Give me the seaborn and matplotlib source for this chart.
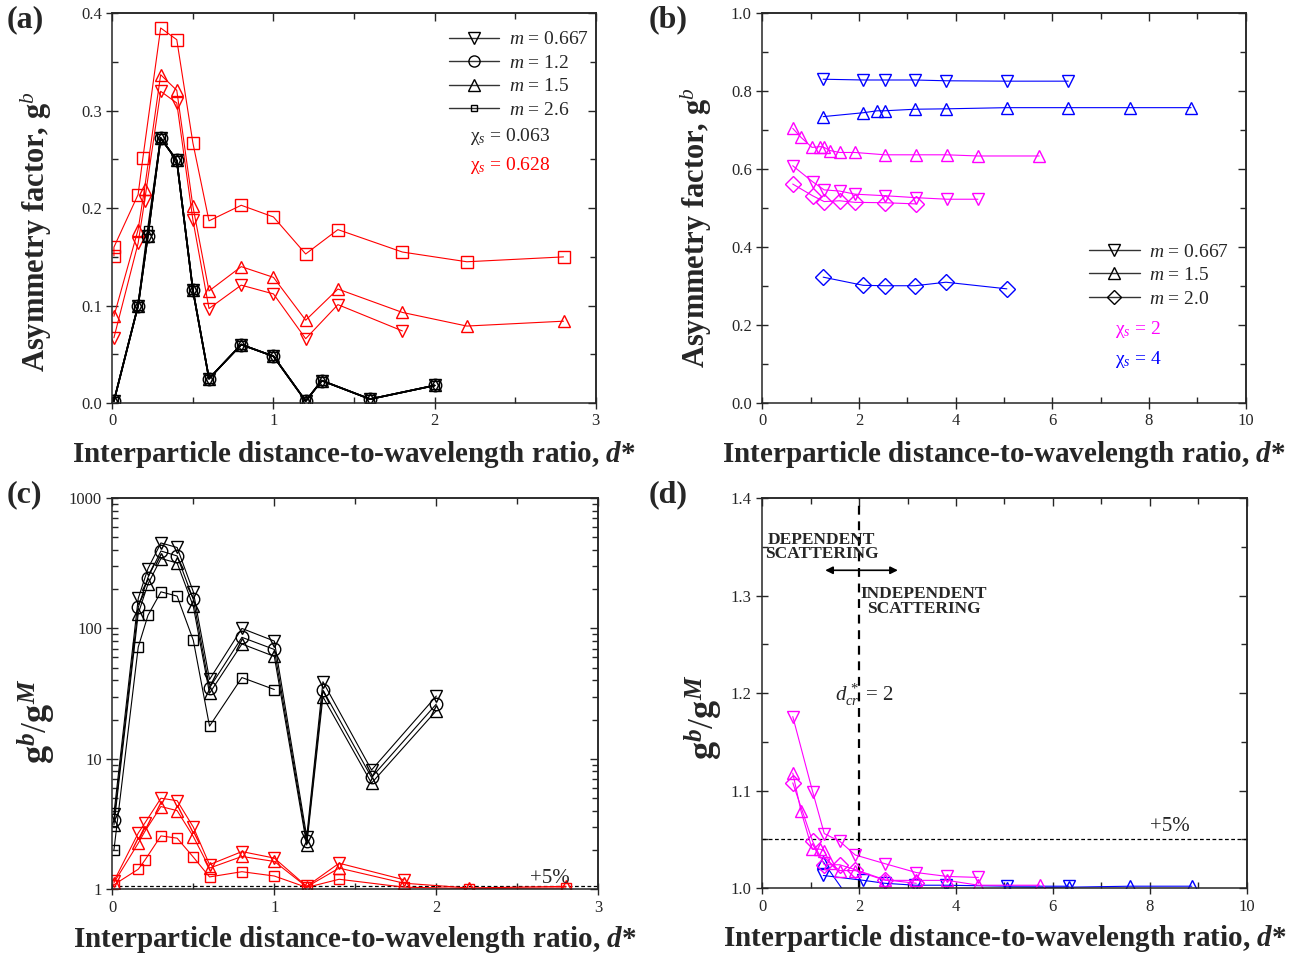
import matplotlib
matplotlib.use("Agg")
import matplotlib.pyplot as plt
import seaborn as sns
from matplotlib.ticker import MultipleLocator, FixedLocator, NullFormatter, LogLocator, FormatStrFormatter
from matplotlib.lines import Line2D

# ---------------- data ----------------
# (a) asymmetry factor vs d*, chi_s = 0.063 (black) and 0.628 (red)
xa_black = [0.01, 0.16, 0.22, 0.3, 0.4, 0.5, 0.6, 0.8, 1.0, 1.2, 1.3, 1.6, 2.0]
ga_black_tri = [0.002, 0.100, 0.171, 0.272, 0.249, 0.116, 0.025, 0.060, 0.048, 0.002, 0.023, 0.004, 0.018]
ga_black_sq = [0.002, 0.100, 0.178, 0.272, 0.249, 0.116, 0.025, 0.060, 0.048, 0.002, 0.023, 0.004, 0.018]

xa_red = [0.01, 0.16, 0.2, 0.3, 0.4, 0.5, 0.6, 0.8, 1.0, 1.2, 1.4, 1.8, 2.2, 2.8]
ga_red_667 = [0.067, 0.164, 0.207, 0.320, 0.308, 0.188, 0.097, 0.121, 0.112, 0.066, 0.101, 0.074]
ga_red_15 = [0.089, 0.178, 0.220, 0.337, 0.321, 0.202, 0.115, 0.140, 0.129, 0.085, 0.117, 0.093, 0.079, 0.084]
xa_red_sq = [0.01, 0.01, 0.16, 0.19, 0.3, 0.4, 0.5, 0.6, 0.8, 1.0, 1.2, 1.4, 1.8, 2.2, 2.8]
ga_red_26 = [0.151, 0.160, 0.214, 0.252, 0.385, 0.373, 0.267, 0.187, 0.203, 0.191, 0.153, 0.178, 0.155, 0.145, 0.150]

# (b) asymmetry factor vs d*, chi_s = 2 (magenta) and 4 (blue)
xb_blue = [1.26, 2.09, 2.53, 3.16, 3.80, 5.06, 6.33]
xb_blue_tu = [1.26, 2.09, 2.38, 2.53, 3.16, 3.80, 5.06, 6.33, 7.60, 8.87]
gb_blue_667 = [0.831, 0.829, 0.829, 0.829, 0.827, 0.826, 0.826]
gb_blue_15 = [0.735, 0.745, 0.750, 0.750, 0.754, 0.755, 0.758, 0.758, 0.758, 0.758]
gb_blue_20 = [0.323, 0.302, 0.301, 0.301, 0.310, 0.293]

xb_mag = [0.63, 1.04, 1.28, 1.60, 1.92, 2.54, 3.18, 3.82, 4.46]
xb_mag_tu = [0.63, 0.80, 1.03, 1.20, 1.28, 1.40, 1.60, 1.92, 2.54, 3.18, 3.82, 4.46, 5.73]
gb_mag_667 = [0.609, 0.568, 0.547, 0.544, 0.536, 0.532, 0.527, 0.523, 0.523]
gb_mag_15 = [0.705, 0.682, 0.656, 0.658, 0.656, 0.648, 0.643, 0.643, 0.637, 0.637, 0.637, 0.634, 0.634]
gb_mag_20 = [0.562, 0.532, 0.517, 0.519, 0.515, 0.514, 0.511]

# (c) g^b / g^M, same cases as (a)
rc_black_667 = [3.8, 170, 288, 453, 418, 191, 40.6, 100, 80, 2.53, 39, 8.2, 30.3]
rc_black_12 = [3.4, 145, 246, 393, 360, 167, 35, 85.5, 69, 2.32, 33.7, 7.2, 26.3]
rc_black_15 = [3.1, 130, 219, 344, 318, 148, 31.8, 76, 61, 2.18, 29.9, 6.5, 23.4]
rc_black_26 = [2.0, 72, 126, 191, 177, 81, 17.8, 42, 34]
rc_red_667 = [1.15, 2.69, 3.2, 4.98, 4.77, 2.99, 1.54, 1.94, 1.73, 1.05, 1.58, 1.18]
rc_red_15 = [1.12, 2.25, 2.76, 4.3, 4.0, 2.53, 1.45, 1.78, 1.63, 1.04, 1.45, 1.11, 1.02, 1.05]
rc_red_26 = [1.08, 1.42, 1.66, 2.56, 2.46, 1.76, 1.24, 1.36, 1.26, 1.03, 1.19, 1.035, 1.01, 1.02]

# (d) g^b / g^M, same cases as (b)
rd_mag_667 = [1.176, 1.099, 1.056, 1.048, 1.034, 1.025, 1.016, 1.012, 1.011]
rd_mag_15 = [1.118, 1.079, 1.040, 1.040, 1.038, 1.026, 1.018, 1.018, 1.008, 1.008, 1.008, 1.003, 1.003]
rd_mag_20 = [1.108, 1.048, 1.024, 1.024, 1.019, 1.0085, 1.005]
rd_blue_667 = [1.013, 1.008, 1.005, 1.003, 1.003, 1.002, 1.002]
rd_blue_15 = [1.027, 0.968, 0.975, 0.98, 0.99, 0.995, 1.0, 1.001, 1.002, 1.002]

RED = "#ff0000"
MAG = "#ff00ff"
BLUE = "#0000ff"

# ---------------- style ----------------
sns.set_style("ticks")
plt.rcParams["font.family"] = ["Liberation Serif", "DejaVu Serif"]
plt.rcParams["mathtext.fontset"] = "custom"
plt.rcParams["mathtext.rm"] = "Liberation Serif"
plt.rcParams["mathtext.it"] = "Liberation Serif:italic"
plt.rcParams["mathtext.bf"] = "Liberation Serif:bold"
plt.rcParams["mathtext.bfit"] = "Liberation Serif:italic:bold"
plt.rcParams["axes.linewidth"] = 1.1

fig = plt.figure(figsize=(13.03, 9.55), dpi=100)
ax_a = fig.add_axes([0.0862, 0.578, 0.371, 0.408])
ax_b = fig.add_axes([0.585, 0.578, 0.371, 0.408])
ax_c = fig.add_axes([0.0862, 0.069, 0.373, 0.4094])
ax_d = fig.add_axes([0.585, 0.070, 0.3717, 0.4084])


def series(ax, x, y, color, marker, ms=9, lw=0.8):
    x = x[:len(y)]
    sns.lineplot(x=x, y=y, ax=ax, estimator=None, sort=False, color=color,
                 marker=marker, markersize=ms, markerfacecolor="none",
                 markeredgecolor=color, markeredgewidth=1.0, linewidth=lw)


def style_axes(ax, xmaj, xmin, ymaj, ymin, logy=False):
    ax.tick_params(which="major", direction="inout", length=9, width=1.0,
                   labelsize=12, top=False, right=False, pad=3)
    ax.tick_params(which="minor", direction="in", length=4, width=1.0,
                   top=False, right=False)
    ax.xaxis.set_major_locator(MultipleLocator(xmaj))
    ax.xaxis.set_minor_locator(MultipleLocator(xmin))
    if not logy:
        ax.yaxis.set_major_locator(MultipleLocator(ymaj))
        ax.yaxis.set_minor_locator(MultipleLocator(ymin))
    top = ax.secondary_xaxis("top")
    top.xaxis.set_major_locator(MultipleLocator(xmaj))
    top.xaxis.set_minor_locator(MultipleLocator(xmin))
    top.tick_params(which="major", direction="in", length=6, width=1.0, labeltop=False)
    top.tick_params(which="minor", direction="in", length=4, width=1.0)
    right = ax.secondary_yaxis("right")
    if logy:
        right.yaxis.set_major_locator(LogLocator(base=10))
        right.yaxis.set_minor_locator(LogLocator(base=10, subs=range(2, 10)))
    else:
        right.yaxis.set_major_locator(MultipleLocator(ymaj))
        right.yaxis.set_minor_locator(MultipleLocator(ymin))
    right.tick_params(which="major", direction="in", length=6, width=1.0, labelright=False)
    right.tick_params(which="minor", direction="in", length=4, width=1.0, labelright=False)
    right.yaxis.set_minor_formatter(NullFormatter())


XLABEL = r"Interparticle distance-to-wavelength ratio, $\mathbfit{d}$*"
XLABEL_FS = 21
YLABEL_A = r"Asymmetry factor, $\mathbf{g}^{\mathit{b}}$"
YLABEL_C = r"$\mathbf{g}^{\mathbfit{b}}/\mathbf{g}^{\mathbfit{M}}$"


def legend_handles(markers):
    out = []
    for mk, ms in markers:
        out.append(Line2D([], [], color="#333333", lw=1, marker=mk, ms=ms,
                          mfc="none", mec="black"))
    return out


# ---------------- (a) ----------------
ax = ax_a
series(ax, xa_red, ga_red_667, RED, "v")
series(ax, xa_red, ga_red_15, RED, "^")
series(ax, xa_red_sq, ga_red_26, RED, "s", ms=8)
series(ax, xa_black, ga_black_tri, "black", "v", lw=1.2)
series(ax, xa_black, ga_black_tri, "black", "o", lw=1.2)
series(ax, xa_black, ga_black_tri, "black", "^", lw=1.2)
series(ax, xa_black, ga_black_sq, "black", "s", ms=6, lw=1.2)
ax.set_xlim(0, 3)
ax.set_ylim(0, 0.4)
style_axes(ax, 1, 0.5, 0.1, 0.05)
ax.yaxis.set_major_formatter(FormatStrFormatter("%.1f"))
ax.set_xlabel(XLABEL, fontsize=XLABEL_FS, fontweight="bold")
ax.set_ylabel(YLABEL_A, fontsize=22, fontweight="bold")
ax.xaxis.set_label_coords(0.5, -0.092)
ax.yaxis.set_label_coords(-0.12, 0.44)

handles = legend_handles([("v", 8), ("o", 8), ("^", 8), ("s", 5)])
labels = [r"$m$ = 0.667", r"$m$ = 1.2", r"$m$ = 1.5", r"$m$ = 2.6"]
ax.legend(handles, labels, loc="upper left", frameon=False, fontsize=14,
          handlelength=2.6, handletextpad=0.5, labelspacing=0.3,
          bbox_to_anchor=(0.66, 1.0))
ax.text(0.74, 0.685, r"χ$_s$ = 0.063", transform=ax.transAxes, fontsize=14, va="center")
ax.text(0.74, 0.610, r"χ$_s$ = 0.628", transform=ax.transAxes, fontsize=14, va="center",
        color=RED)

# ---------------- (b) ----------------
ax = ax_b
series(ax, xb_blue, gb_blue_667, BLUE, "v")
series(ax, xb_blue_tu, gb_blue_15, BLUE, "^")
series(ax, xb_blue, gb_blue_20, BLUE, "D", ms=8)
series(ax, xb_mag_tu, gb_mag_15, MAG, "^")
series(ax, xb_mag, gb_mag_667, MAG, "v")
series(ax, xb_mag, gb_mag_20, MAG, "D", ms=8)
ax.set_xlim(0, 10)
ax.set_ylim(0, 1.0)
style_axes(ax, 2, 1, 0.2, 0.1)
ax.yaxis.set_major_formatter(FormatStrFormatter("%.1f"))
ax.set_xlabel(XLABEL, fontsize=XLABEL_FS, fontweight="bold")
ax.set_ylabel(YLABEL_A, fontsize=22, fontweight="bold")
ax.xaxis.set_label_coords(0.5, -0.092)
ax.yaxis.set_label_coords(-0.1, 0.45)
handles_b = legend_handles([("v", 8), ("^", 8), ("D", 7)])
labels_b = [r"$m$ = 0.667", r"$m$ = 1.5", r"$m$ = 2.0"]
ax.legend(handles_b, labels_b, loc="upper left", frameon=False, fontsize=14,
          handlelength=2.6, handletextpad=0.5, labelspacing=0.3,
          bbox_to_anchor=(0.64, 0.455))
ax.text(0.73, 0.188, r"χ$_s$ = 2", transform=ax.transAxes, fontsize=14, va="center",
        color=MAG)
ax.text(0.73, 0.111, r"χ$_s$ = 4", transform=ax.transAxes, fontsize=14, va="center",
        color=BLUE)

# ---------------- (c) ----------------
ax = ax_c
ax.set_yscale("log")
ax.axhline(1.05, color="black", lw=0.9, ls=(0, (3, 2)))
series(ax, xa_red, rc_red_667, RED, "v")
series(ax, xa_red, rc_red_15, RED, "^")
series(ax, xa_red, rc_red_26, RED, "s", ms=7)
series(ax, xa_black, rc_black_667, "black", "v")
series(ax, xa_black, rc_black_12, "black", "o")
series(ax, xa_black, rc_black_15, "black", "^")
series(ax, xa_black, rc_black_26, "black", "s", ms=7)
ax.set_xlim(0, 3)
ax.set_ylim(1, 1000)
style_axes(ax, 1, 0.5, None, None, logy=True)
ax.yaxis.set_major_locator(FixedLocator([1, 10, 100, 1000]))
ax.yaxis.set_major_formatter(FormatStrFormatter("%g"))
ax.yaxis.set_minor_locator(LogLocator(base=10, subs=range(2, 10)))
ax.yaxis.set_minor_formatter(NullFormatter())
ax.text(2.58, 1.12, "+5%", fontsize=15)
ax.set_xlabel(XLABEL, fontsize=XLABEL_FS, fontweight="bold")
ax.set_ylabel(YLABEL_C, fontsize=26)
ax.xaxis.set_label_coords(0.5, -0.088)
ax.yaxis.set_label_coords(-0.112, 0.43)

# ---------------- (d) ----------------
ax = ax_d
ax.axhline(1.05, color="black", lw=0.9, ls=(0, (3, 2)))
ax.axvline(2, color="black", lw=1.6, ls=(0, (4, 3)))
series(ax, xb_blue, rd_blue_667, BLUE, "v")
series(ax, xb_blue_tu, rd_blue_15, BLUE, "^")
series(ax, xb_mag, rd_mag_667, MAG, "v")
series(ax, xb_mag_tu, rd_mag_15, MAG, "^")
series(ax, xb_mag, rd_mag_20, MAG, "D", ms=8)
ax.set_xlim(0, 10)
ax.set_ylim(1.0, 1.4)
style_axes(ax, 2, 1, 0.1, 0.05)
ax.yaxis.set_major_formatter(FormatStrFormatter("%.1f"))
ax.text(1.23, 1.3495, "DEPENDENT\nSCATTERING", fontsize=12.5, fontweight="bold",
        ha="center", va="center", linespacing=0.85)
ax.text(3.33, 1.294, "INDEPENDENT\nSCATTERING", fontsize=12.5, fontweight="bold",
        ha="center", va="center", linespacing=0.85)
ax.annotate("", xy=(1.3, 1.326), xytext=(2.8, 1.326),
            arrowprops=dict(arrowstyle="<|-|>", color="black", lw=1.2,
                            mutation_scale=11, shrinkA=0, shrinkB=0))
ax.text(1.5, 1.198, r"$d^{\,*}_{cr}$ = 2", fontsize=15, va="center")
ax.text(8.0, 1.063, "+5%", fontsize=15, va="center")
ax.set_xlabel(XLABEL, fontsize=XLABEL_FS, fontweight="bold")
ax.set_ylabel(YLABEL_C, fontsize=26)
ax.xaxis.set_label_coords(0.5, -0.09)
ax.yaxis.set_label_coords(-0.077, 0.437)

# panel tags
for tag, (px, py) in zip(["(a)", "(b)", "(c)", "(d)"],
                         [(7, 20), (649, 20), (7, 495), (649, 495)]):
    fig.text(px / 1303, 1 - py / 955, tag, fontsize=23, fontweight="bold", va="center")

fig.savefig("out.png", dpi=100)
